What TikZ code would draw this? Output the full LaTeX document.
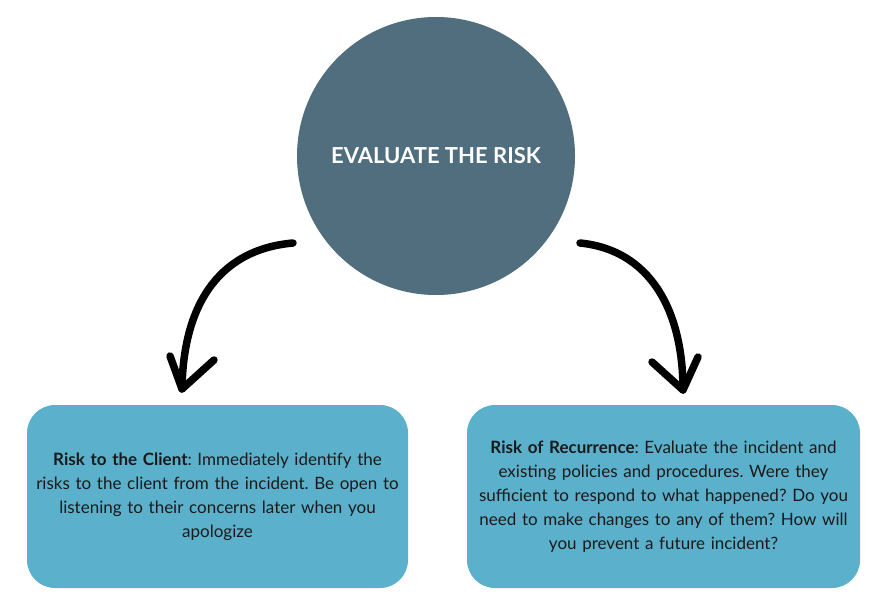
\documentclass[tikz,border=0pt]{standalone}
\usepackage{fontspec}
\setmainfont{Lato}
\usepackage{xcolor}
\usetikzlibrary{arrows.meta,positioning}
\definecolor{slate}{HTML}{506E7E}
\definecolor{sky}{HTML}{5BB1CB}
\definecolor{ink}{HTML}{1A1A1A}
\frenchspacing
\tikzset{box/.style={rounded corners=28pt,fill=sky,align=center,minimum height=183pt,inner sep=0pt,
    font=\fontsize{17}{24}\selectfont,text=ink},
  hub/.style={circle,fill=slate,minimum size=278pt,inner sep=0pt,text=white,
    font=\fontsize{22}{24}\selectfont\bfseries},
  hand/.style={line width=7.5pt,line cap=round,line join=round,black}}

\begin{document}
\begin{tikzpicture}[x=1pt,y=-1pt]
\useasboundingbox (0,0) rectangle (891,615);
\node[hub] (risk) at (436,156) {EVALUATE THE RISK};
\node[box,minimum width=381pt,text width=378pt] (client) at (217.5,496.5)
  {\textbf{Risk to the Client}: Immediately identify the\\ risks to the client from the incident. Be open to\\
   listening to their concerns later when you\\ apologize\vphantom{g}\\[-4pt]};
\node[box,minimum width=393pt,text width=390pt] (recur) at (663.5,496.5)
  {\textbf{Risk of Recurrence}: Evaluate the incident and\\ existing policies and procedures. Were they\\
   sufficient to respond to what happened? Do you\\ need to make changes to any of them? How will\\
   you prevent a future incident?};
% arrows, drawn by hand
\coordinate (ls) at (293,243);
\coordinate (lt) at (182,389);
\coordinate (rs) at (580,243);
\coordinate (rt) at (683,390);
\draw[hand] (ls) .. controls (215,250) and (183,310) .. (lt);
\draw[hand] (170,356) -- (lt) -- (214,360);
\draw[hand] (rs) .. controls (650,250) and (683,310) .. (rt);
\draw[hand] (652,362) -- (rt) -- (698,357);
\end{tikzpicture}
\end{document}
